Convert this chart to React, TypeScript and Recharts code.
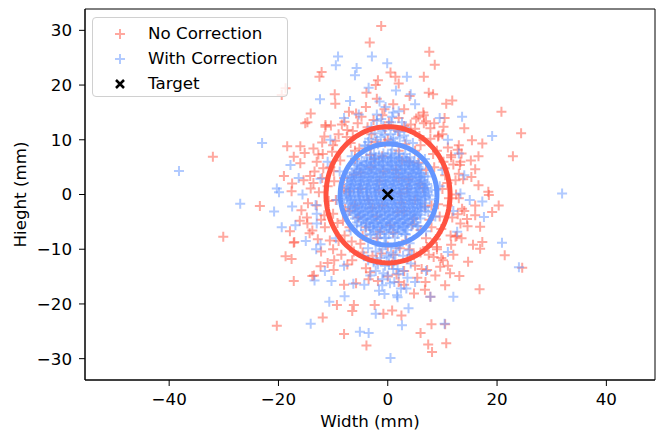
import React from "react";
import {
  ScatterChart,
  Scatter,
  XAxis,
  YAxis,
  Legend,
  ReferenceArea,
  Label,
} from "recharts";

// Shot positions, in mm: [width, height]
const noCorrection: [number, number][] = [
  [-1.2, 30.8], [7.6, 26.1], [8.6, 23.7], [-3.3, 27.8], [-12.1, 22.4], [-12.5, 21.5],
  [-18.7, 19.4], [-19.4, 18.2], [-14.1, 14.8], [-15.1, 13.0], [-32.0, 6.9], [-18.4, 8.8],
  [-16.0, 8.8], [-17.2, 6.9], [-16.0, 5.7], [-19.0, 3.4], [-17.5, 2.0], [-17.6, 0.6],
  [-13.6, 2.1], [-11.4, 12.4], [-11.9, 7.4], [-23.4, -2.1], [-30.1, -7.7], [-15.8, -2.9],
  [-17.9, -6.7], [-17.2, -8.8], [-18.7, -11.3], [-17.6, -11.8], [-17.2, -15.8], [-13.5, -14.8],
  [-12.3, -13.1], [-20.3, -24.0], [-11.9, -22.5], [-14.3, -7.1], [-16.1, -4.8], [-14.7, -5.3],
  [-8.0, -25.5], [-3.9, -27.6], [-9.3, -20.2], [-6.2, -20.2], [-6.5, -21.3], [-0.8, -21.8],
  [-2.4, -20.2], [-9.9, -13.8], [-13.8, -14.9], [-8.0, -16.5], [-17.1, -8.7],
  [-9.7, 18.3], [-9.6, 16.6], [-7.1, 15.1], [-14.7, 13.2], [-11.4, 12.7], [-7.9, 13.3],
  [-7.4, 11.8], [-2.2, 20.0], [-3.9, 18.6], [-1.8, 20.9], [-12.7, 7.3], [-9.9, 4.3], [-14.1, 1.1],
  [6.6, 21.5], [7.5, 18.6], [8.3, 18.3], [10.7, 16.6], [11.8, 17.2], [10.4, 14.0], [6.6, 14.5],
  [5.2, 13.9], [20.8, 15.1], [24.4, 11.2], [22.9, 7.0], [14.0, 12.1], [15.4, 9.9], [17.3, 9.3],
  [16.6, 7.0], [13.5, 7.5], [11.6, 7.2], [13.3, 6.0], [16.0, 4.6], [15.3, 3.2], [16.6, 1.7],
  [18.4, 0.5], [13.0, 3.8], [10.2, 6.0], [9.3, 10.8], [7.8, 12.1], [6.6, 13.0], [1.4, 21.5],
  [2.0, 20.3], [0.5, 22.3],
  [18.5, -0.1], [20.3, -2.0], [19.1, -3.2], [16.0, -2.0], [16.0, -3.8], [16.9, -5.9], [17.3, -8.7],
  [16.9, -9.9], [21.4, -11.1], [24.6, -13.4], [16.8, -17.3], [14.7, -12.3], [13.1, -14.9],
  [10.5, -16.6], [10.1, -12.0], [8.7, -14.8], [6.9, -16.0], [7.8, -18.7], [4.8, -18.1], [8.0, -23.7],
  [6.0, -25.3], [7.4, -27.4], [8.1, -28.8], [10.7, -27.2], [10.5, -23.7], [2.5, -22.1], [0.8, -21.2],
  [13.0, -0.7], [13.3, -5.3], [12.4, -7.7], [9.0, -9.6], [14.5, -4.5],
  [-8, 3], [-9.5, -1], [-10.5, 5], [-7, -6], [-6, 8], [-5, -9], [-3, 11], [-2, -12], [0, 10],
  [1, -11], [3, 12.5], [4, -10], [6, 9], [7, -8], [8.5, 5], [9.5, -4], [10, 1], [-10, -3.5],
  [-11, 1.5], [-9, -8.5], [-7.5, 10.5], [11, -2], [10.5, 3.5], [9, 8], [7.5, -11], [5, -13],
  [-4, -13.5], [-6.5, -12], [-8.5, -11], [-11.5, -6], [-12, 3], [-10, 9], [-5.5, 13], [2, 14],
  [5, 12], [11.5, -7.5], [12.5, 0], [12, 5.5], [-3, 5], [-2, -4], [2, 3], [3, -3], [-5, 1], [5, -1],
  [-1, 7], [1, -7], [4, 6], [-4, -6], [6, 2], [-6, -2], [0.5, 0.5], [-1.5, 2.5], [2.5, -1.5],
  [-3.5, -1], [3.5, 1], [-1, -2], [1.5, 4.5], [-2.5, 6.5], [4.5, -5.5], [-5, 4], [7, 4.5], [-7, -3],
  [0, -9.5], [-0.5, 9.5], [8, -2], [-8, 1], [6, -6.5], [-6, 6.5], [2, 8], [-2, -8], [9, -10],
  [-9, 11], [10, 11], [-10, -10], [3, -14], [-1, 14.5], [12, -11], [-12, 9.5], [13, 9], [-13, -2],
  [14, -3], [11, -13], [6.5, 15], [-4, 16], [1, 16.5], [3, -16.5], [-3.5, -15.5], [0, -15],
  [-0.5, 12], [8.5, 13], [13.5, -8], [-13, 6], [-11, -12.5], [4, 18], [-2, 17.5],
  [-10.8, -1.2], [-9.8, 2.4], [-11.6, -3.8], [-8.7, 6.2], [-7.9, -7.5], [-6.8, 9.4], [-4.6, -10.6],
  [-3.7, 12.3], [-1.2, -10.8], [1.9, 11.6], [3.6, -11.8], [5.8, 10.7], [7.2, -9.6], [8.3, 7.4],
  [9.8, -6.3], [10.4, 4.8], [11.2, -0.7], [10.9, 2.1], [9.2, -1.8], [-9.2, -5.2], [-10.2, 7.8],
  [-6.2, -10.4], [-2.8, -11.2], [0.8, -12.8], [4.8, -11.1], [8.8, -8.2], [11.8, -4.2], [11.6, 6.8],
  [7.8, 10.2], [4.2, 12.8], [0.2, 13.2], [-2.6, 13.6], [-6.4, 11.6], [-9.6, 9.8], [-11.8, 4.8],
  [-12.6, 0.4], [-12.2, -4.6], [-10.6, -8.4], [-7.4, -12.8], [-3.2, -14.2], [1.6, -14.6],
  [6.2, -13.6], [9.8, -11.6], [12.6, -7.6], [13.6, -2.6], [13.8, 2.8], [12.8, 8.2], [10.2, 12.4],
  [5.6, 14.2], [-0.6, 15.6], [-5.8, 14.8], [-10.4, 12.6], [-13.6, 8.4], [-14.2, 3.4], [-14.6, -1.6],
  [-13.8, -6.6], [-12.2, -10.4],
  [-6.2, 3.6], [-5.4, -4.2], [-3.2, 7.2], [-1.4, -6.8], [2.6, 6.2], [4.8, -4.4], [6.4, 1.2],
  [-7.2, 0.6], [5.6, 5.8], [-4.6, -7.6], [3.4, -8.4], [-2.2, 9.6], [7.6, -4.6], [-7.8, -2.6],
  [6.8, -2.2], [3.2, 9.2], [-5.2, 8.4], [0.4, -5.6], [1.8, -3.2], [-0.8, 4.2], [3.8, 2.8],
  [-2.8, -2.4], [2.4, 0.2], [-1.6, 0.8],
  [9.6, -13.2], [7.2, -13.8], [5.4, -15.2], [11.6, -9.2], [8.4, -11.4], [6.0, -10.6], [12.8, -3.6],
  [12.4, 2.6], [11.0, 8.6], [9.2, 10.6], [-9.8, -12.0], [-12.8, -8.2], [-13.4, 4.2], [-11.6, 10.6],
  [-8.4, 12.8], [-4.8, 14.2], [3.0, 15.6], [7.0, 13.4], [13.2, 5.4], [14.6, -5.8], [-14.8, -4.2],
  [-15.4, 2.6], [2.0, -16.0], [-1.8, -15.8], [-5.8, -16.2], [6.8, -17.4], [11.4, -14.4],
  [15.6, -9.2], [15.2, 6.2], [-15.2, 7.6], [-3.0, 9.0], [2.2, -9.8], [-8.2, -4.8], [8.0, -6.0],
  [-6.6, -8.6], [5.0, 8.0],
];

const withCorrection: [number, number][] = [
  [-38.2, 4.3], [-23.0, 9.4], [-27.0, -1.7], [-12.4, 17.4], [-20.8, -3.1], [-17.8, 5.4],
  [-16.3, 3.0], [-20.3, 1.1], [-19.9, 0.4], [-15.6, 0.0], [-12.3, 2.9], [31.9, 0.2], [19.1, 10.7],
  [13.6, 14.2], [-9.1, 25.2], [-9.5, 23.6], [-2.9, 25.2], [-0.1, 24.0], [-5.7, 23.1], [-6.0, 21.8],
  [-6.9, 17.1], [4.2, 18.3], [-5.3, 14.6], [-19.4, -6.0], [-17.5, -2.2], [-16.9, -5.6],
  [-13.2, -1.9], [-13.1, -10.0], [-12.3, -9.1], [-13.4, -15.7], [-14.1, -23.6], [-10.7, -19.6],
  [-13.0, -5.3], [-10.3, -15.8], [-7.9, -18.6], [-5.1, -25.1], [-3.5, -25.3], [0.5, -29.9],
  [-6.3, -16.3], [-2.2, -21.8], [-4.3, -16.5], [20.9, -8.8], [24.0, -13.3], [12.0, -18.7],
  [10.4, -23.6], [2.6, -23.9], [3.8, -20.8], [1.7, -18.4], [13.3, 0.2], [17.6, -4.1], [17.3, -1.3],
  [7.8, -18.7], [12.7, -6.8], [3.5, 21.5], [5.0, 16.5], [-3.5, 19.5], [-1.5, 17], [1.5, 19],
  [-8, 14], [-10.5, 10], [-11, 6], [-13, -3.5], [9.5, 14], [11, 10], [13, 7.5], [12, -3],
  [11, -10.5], [7, -14], [-8, -13], [-9.5, -8], [2, -14.5], [-1, -15.5], [5, -16], [-2, 13.5],
  [1, 15], [15, -1], [14, 3.5], [-15, -8.5], [-11.5, -14], [10, 4.5],
  [8, 0.8], [-8, -0.6], [0.8, 8.2], [-0.6, -8], [5.7, 5.6], [-5.6, 5.7], [5.6, -5.8], [-5.7, -5.6],
  [7.3, 3.3], [-7.4, 3.1], [3.2, 7.4], [-3.1, 7.3], [7.4, -3.2], [-7.3, -3.3], [3.3, -7.3], [-3.2, -7.4],
  [9.5, 1.5], [-9.3, -1], [1, 9.6], [-1.5, -9.4], [6.8, 6.5], [-6.6, 7], [7, -6.7], [-6.8, -6.6],
  [8.7, -4], [-8.8, 4.2], [4, -8.9], [-4.1, 8.8],
  [0.5, 11], [-0.8, 12.5], [0.2, -11.5], [-0.5, -13], [1.2, -12.2], [-1.3, 10.5],
  [-1.8, 9.2], [0.6, 9.8], [2.2, 10.4], [-0.6, 10.9], [1.4, 11.8], [-2.4, 11.2], [0.2, 12.6],
  [-1.2, 13.8], [2.6, 13.2], [0.8, 14.2], [-0.4, -9.2], [1.6, -9.8], [-2.2, -10.4], [0.6, -10.6],
  [2.8, -11.2], [-1.4, -11.6], [0.2, -12.8], [-2.6, -12.4], [1.8, -13.6], [-0.8, -14.4],
  [0.4, -16.2], [3.6, -15.2], [-3.2, -14.8], [2.4, -17.2], [-1.6, -17.6], [3.2, 12.2],
  [-3.4, 10.2], [4.2, -12.6], [-4.4, -11.2],
  [-3.6, 9.6], [-2.0, 10.0], [1.0, 10.2], [3.4, 9.8], [-1.0, 11.6], [2.0, 11.4], [-3.0, 12.4],
  [0.6, 13.2], [-2.0, 14.6], [2.0, 15.2], [-0.4, 16.0], [3.0, 10.8], [-4.2, 9.0], [4.6, 9.4],
  [-3.6, -9.8], [-1.0, -10.0], [2.0, -9.4], [3.8, -10.2], [-0.2, -11.2], [1.4, -11.0],
  [-1.8, -12.8], [1.0, -13.6], [-2.2, -14.0], [0.0, -14.8], [2.8, -14.0], [-1.0, -16.6],
  [1.2, -16.0], [-3.6, -12.0], [4.4, -11.0], [-0.6, -18.2], [1.8, -18.8], [3.4, -17.2],
];

// dense centre of the corrected group, row by row: [height, widths]
const withCorrectionCore: [number, number[]][] = [
  [7.5, [-2.5, -0.8, 0.6, 2.1]],
  [7.15, [-1.6, 0.0, 1.5]],
  [6.8, [-3.9, -2.2, -0.5, 1.2, 2.9, 4.1]],
  [6.7, [-2.4, -0.9, 0.6, 2.1]],
  [6.45, [-3.0, -1.3, 0.4, 2.1, 3.5]],
  [6.1, [-4.8, -3.1, -1.6, 0.1, 1.7, 3.4, 4.9]],
  [6.0, [-3.8, -2.3, -0.8, 0.8, 2.4, 3.9]],
  [5.75, [-4.3, -2.7, -1.1, 0.5, 2.0, 3.6, 4.7]],
  [5.4, [-5.6, -4.0, -2.4, -0.9, 0.7, 2.3, 3.8, 5.3]],
  [5.3, [-4.8, -3.2, -1.6, 0.0, 1.5, 3.1, 4.6]],
  [5.05, [-5.1, -3.4, -1.9, -0.2, 1.4, 3.0, 4.4, 5.6]],
  [4.7, [-6.1, -4.5, -3.0, -1.3, 0.3, 1.9, 3.2, 4.8, 6.0]],
  [4.6, [-5.3, -3.7, -2.2, -0.6, 1.0, 2.6, 4.1, 5.5]],
  [4.35, [-5.7, -4.1, -2.5, -0.9, 0.7, 2.3, 3.8, 5.2]],
  [4.0, [-6.6, -5.0, -3.5, -2.0, -0.4, 1.1, 2.6, 4.2, 5.7]],
  [3.9, [-5.8, -4.2, -2.7, -1.2, 0.4, 1.9, 3.4, 4.9, 6.2]],
  [3.65, [-6.2, -4.6, -3.0, -1.5, 0.1, 1.6, 3.1, 4.6, 6.0]],
  [3.3, [-6.9, -5.4, -3.8, -2.3, -0.8, 0.8, 2.2, 3.7, 5.2, 6.7]],
  [3.2, [-6.1, -4.6, -3.1, -1.5, 0.0, 1.5, 3.0, 4.5, 6.0]],
  [2.95, [-6.5, -4.9, -3.4, -1.9, -0.3, 1.2, 2.8, 4.3, 5.8]],
  [2.6, [-7.2, -5.8, -4.3, -2.7, -1.1, 0.4, 1.8, 3.3, 4.9, 6.3]],
  [2.5, [-6.4, -4.9, -3.4, -1.9, -0.4, 1.1, 2.6, 4.1, 5.7]],
  [2.25, [-6.7, -5.1, -3.7, -2.1, -0.6, 0.9, 2.5, 3.9, 5.4, 6.8]],
  [1.9, [-7.4, -6.0, -4.6, -3.1, -1.6, 0.0, 1.5, 3.0, 4.4, 5.9, 7.2]],
  [1.8, [-6.6, -5.1, -3.6, -2.0, -0.5, 1.0, 2.5, 4.0, 5.5, 6.8]],
  [1.55, [-6.9, -5.4, -3.9, -2.4, -0.9, 0.6, 2.1, 3.6, 5.1, 6.5]],
  [1.2, [-7.6, -6.2, -4.9, -3.4, -1.9, -0.3, 1.2, 2.7, 4.1, 5.6, 7.0]],
  [1.1, [-6.8, -5.3, -3.8, -2.2, -0.7, 0.8, 2.3, 3.8, 5.3, 6.7]],
  [0.85, [-7.0, -5.5, -4.0, -2.6, -1.0, 0.5, 1.9, 3.5, 5.0, 6.6]],
  [0.5, [-7.7, -6.3, -4.8, -3.2, -1.7, -0.1, 1.4, 2.9, 4.3, 5.8, 7.3]],
  [0.4, [-6.9, -5.4, -3.9, -2.4, -0.9, 0.6, 2.1, 3.6, 5.1, 6.6]],
  [0.15, [-7.1, -5.4, -3.8, -2.3, -0.7, 0.8, 2.3, 3.8, 5.3, 6.8]],
  [-0.2, [-7.6, -6.1, -4.5, -3.0, -1.4, 0.2, 1.7, 3.2, 4.7, 6.1, 7.5]],
  [-0.3, [-6.8, -5.3, -3.8, -2.2, -0.7, 0.9, 2.4, 3.9, 5.4, 6.8]],
  [-0.55, [-6.9, -5.2, -3.7, -2.1, -0.5, 1.1, 2.6, 4.0, 5.5, 7.0]],
  [-0.9, [-7.5, -5.9, -4.3, -2.8, -1.2, 0.5, 2.0, 3.5, 4.9, 6.4, 7.7]],
  [-1.0, [-6.6, -5.1, -3.6, -2.0, -0.5, 1.1, 2.6, 4.1, 5.6]],
  [-1.25, [-6.7, -5.0, -3.4, -1.9, -0.2, 1.3, 2.9, 4.3, 5.9]],
  [-1.6, [-7.3, -5.7, -4.1, -2.5, -0.9, 0.7, 2.2, 3.8, 5.3, 6.8]],
  [-1.7, [-6.3, -4.8, -3.3, -1.7, -0.2, 1.3, 2.8, 4.4, 5.9]],
  [-1.95, [-6.4, -4.8, -3.2, -1.6, 0.1, 1.6, 3.0, 4.6, 6.1]],
  [-2.3, [-7.0, -5.5, -3.9, -2.3, -0.7, 0.9, 2.4, 3.9, 5.5, 6.9]],
  [-2.4, [-6.0, -4.5, -3.0, -1.5, 0.0, 1.5, 3.1, 4.6, 6.0]],
  [-2.65, [-6.1, -4.6, -3.0, -1.4, 0.2, 1.8, 3.3, 4.8, 6.2]],
  [-3.0, [-6.8, -5.2, -3.6, -2.1, -0.5, 1.0, 2.6, 4.1, 5.6, 6.9]],
  [-3.1, [-5.6, -4.1, -2.6, -1.1, 0.5, 2.0, 3.5, 5.0]],
  [-3.35, [-5.8, -4.2, -2.7, -1.1, 0.4, 2.0, 3.5, 5.0]],
  [-3.7, [-6.4, -4.9, -3.3, -1.8, -0.2, 1.3, 2.9, 4.4, 5.9]],
  [-3.8, [-5.1, -3.6, -2.0, -0.5, 1.0, 2.6, 4.1, 5.4]],
  [-4.05, [-5.3, -3.8, -2.2, -0.7, 0.8, 2.3, 3.8, 5.2]],
  [-4.4, [-6.0, -4.4, -2.9, -1.4, 0.1, 1.6, 3.1, 4.6, 6.0]],
  [-4.5, [-4.5, -3.0, -1.4, 0.1, 1.6, 3.1, 4.6]],
  [-4.75, [-4.8, -3.2, -1.7, -0.2, 1.3, 2.7, 4.2]],
  [-5.1, [-5.6, -4.0, -2.5, -1.0, 0.5, 2.0, 3.5, 5.1]],
  [-5.2, [-3.7, -2.2, -0.7, 0.8, 2.3, 3.8]],
  [-5.45, [-4.1, -2.6, -1.1, 0.4, 1.9, 3.3, 4.6]],
  [-5.8, [-4.9, -3.4, -1.9, -0.3, 1.2, 2.8, 4.3, 5.4]],
  [-5.9, [-2.7, -1.2, 0.3, 1.8, 3.1]],
  [-6.15, [-3.2, -1.7, -0.1, 1.4, 2.9]],
  [-6.5, [-4.1, -2.6, -1.0, 0.6, 2.1, 3.6]],
  [-6.85, [-2.2, -0.6, 1.0, 2.5]],
  [-7.2, [-3.0, -1.4, 0.2, 1.8, 3.2]],
  [-7.9, [-1.8, -0.3, 1.3]],
];

const target: [number, number][] = [[0, 0]];

// spread ellipses (centre and semi-axes, mm)
const noCorrEllipse = { cx: 0.05, cy: -0.05, rx: 11.35, ry: 12.45 };
const withCorrEllipse = { cx: 0.15, cy: 0.0, rx: 8.85, ry: 9.25 };

const xTicks = [-40, -20, 0, 20, 40];
const yTicks = [-30, -20, -10, 0, 10, 20, 30];
const xDomain = [-55.4, 48.9];
const yDomain = [-33.9, 33.9];

const RED = "#ff5240";
const BLUE = "#6496ff";
const FONT = "DejaVu Sans, sans-serif";
const FONT_SIZE = 16.7;

const toPoints = (arr: [number, number][]) => arr.map(([x, y]) => ({ x, y }));
const rowsToPoints = (rows: [number, number[]][]) =>
  rows.flatMap(([y, xs]) => xs.map((x) => ({ x, y })));

const ellipseOutline = (e: { cx: number; cy: number; rx: number; ry: number }) =>
  Array.from({ length: 121 }, (_, i) => {
    const t = (i / 120) * 2 * Math.PI;
    return { x: e.cx + e.rx * Math.cos(t), y: e.cy + e.ry * Math.sin(t) };
  });

const minus = (v: number) => String(v).replace("-", "\u2212");

const plusShape = (color: string) => (props: any) => {
  const { cx, cy } = props;
  if (cx == null || cy == null) return <g />;
  const s = 5;
  return (
    <path
      d={`M${cx - s},${cy}H${cx + s}M${cx},${cy - s}V${cy + s}`}
      stroke={color}
      strokeWidth={2}
      strokeOpacity={0.5}
      fill="none"
    />
  );
};

const crossShape = (props: any) => {
  const { cx, cy } = props;
  const s = 5;
  return (
    <path
      d={`M${cx - s},${cy - s}L${cx + s},${cy + s}M${cx - s},${cy + s}L${cx + s},${cy - s}`}
      stroke="#000"
      strokeWidth={2.5}
      fill="none"
    />
  );
};

const noShape = () => <g />;

function LegendBox() {
  const rows = [
    { label: "No Correction", kind: "plus", color: RED },
    { label: "With Correction", kind: "plus", color: BLUE },
    { label: "Target", kind: "cross", color: "#000" },
  ];
  return (
    <div
      style={{
        position: "relative",
        width: 196,
        height: 80,
        boxSizing: "border-box",
        border: "1px solid #d0d0d0",
        borderRadius: 4,
        background: "rgba(255,255,255,0.8)",
        fontFamily: FONT,
        fontSize: FONT_SIZE,
        color: "#000",
      }}
    >
      {rows.map((r, i) => (
        <div key={r.label} style={{ position: "absolute", left: 0, top: 5 + i * 25, height: 20, width: "100%" }}>
          <svg width={30} height={22} style={{ position: "absolute", left: 12, top: 0 }}>
            {r.kind === "plus" ? (
              <path d="M10,11H20M15,6V16" stroke={r.color} strokeWidth={2} strokeOpacity={0.5} />
            ) : (
              <path d="M11,7L19,15M11,15L19,7" stroke="#000" strokeWidth={2.5} />
            )}
          </svg>
          <span style={{ position: "absolute", left: 55, top: 0, lineHeight: "20px", whiteSpace: "nowrap" }}>
            {r.label}
          </span>
        </div>
      ))}
    </div>
  );
}

export default function App() {
  const tickStyle = { fontSize: FONT_SIZE, fill: "#000", fontFamily: FONT };
  const bluePoints = [...toPoints(withCorrection), ...rowsToPoints(withCorrectionCore)];
  return (
    <div style={{ position: "absolute", left: 0, top: 0, width: 662, height: 433, background: "#fff" }}>
      <ScatterChart width={662} height={433} margin={{ top: 9, right: 7, bottom: 0, left: 12 }}>
        <XAxis
          type="number"
          dataKey="x"
          domain={xDomain}
          ticks={xTicks}
          allowDataOverflow
          height={53}
          tick={tickStyle}
          tickFormatter={minus}
          tickSize={6}
          tickMargin={7}
          stroke="#000"
        >
          <Label
            value="Width (mm)"
            position="insideBottom"
            offset={6}
            style={{ fontSize: FONT_SIZE, fill: "#000", fontFamily: FONT }}
          />
        </XAxis>
        <YAxis
          type="number"
          dataKey="y"
          domain={yDomain}
          ticks={yTicks}
          allowDataOverflow
          width={73}
          tick={tickStyle}
          tickFormatter={minus}
          tickSize={6}
          tickMargin={7}
          stroke="#000"
        >
          <Label
            value="Hieght (mm)"
            angle={-90}
            position="insideLeft"
            offset={8}
            style={{ fontSize: FONT_SIZE, fill: "#000", fontFamily: FONT, textAnchor: "middle" }}
          />
        </YAxis>
        <ReferenceArea
          x1={xDomain[0]}
          x2={xDomain[1]}
          y1={yDomain[0]}
          y2={yDomain[1]}
          fill="none"
          stroke="#000"
          strokeWidth={1}
        />
        <Scatter name="No Correction" data={toPoints(noCorrection)} shape={plusShape(RED)} isAnimationActive={false} />
        <Scatter name="With Correction" data={bluePoints} shape={plusShape(BLUE)} isAnimationActive={false} />
        <Scatter
          data={ellipseOutline(noCorrEllipse)}
          line={{ stroke: RED, strokeWidth: 5 }}
          shape={noShape}
          legendType="none"
          isAnimationActive={false}
        />
        <Scatter
          data={ellipseOutline(withCorrEllipse)}
          line={{ stroke: BLUE, strokeWidth: 5 }}
          shape={noShape}
          legendType="none"
          isAnimationActive={false}
        />
        <Scatter name="Target" data={toPoints(target)} shape={crossShape} isAnimationActive={false} />
        <Legend
          layout="horizontal"
          verticalAlign="middle"
          align="center"
          content={() => <LegendBox />}
          wrapperStyle={{ position: "absolute", left: 92, top: 17, width: 196, height: 80 }}
        />
      </ScatterChart>
    </div>
  );
}
